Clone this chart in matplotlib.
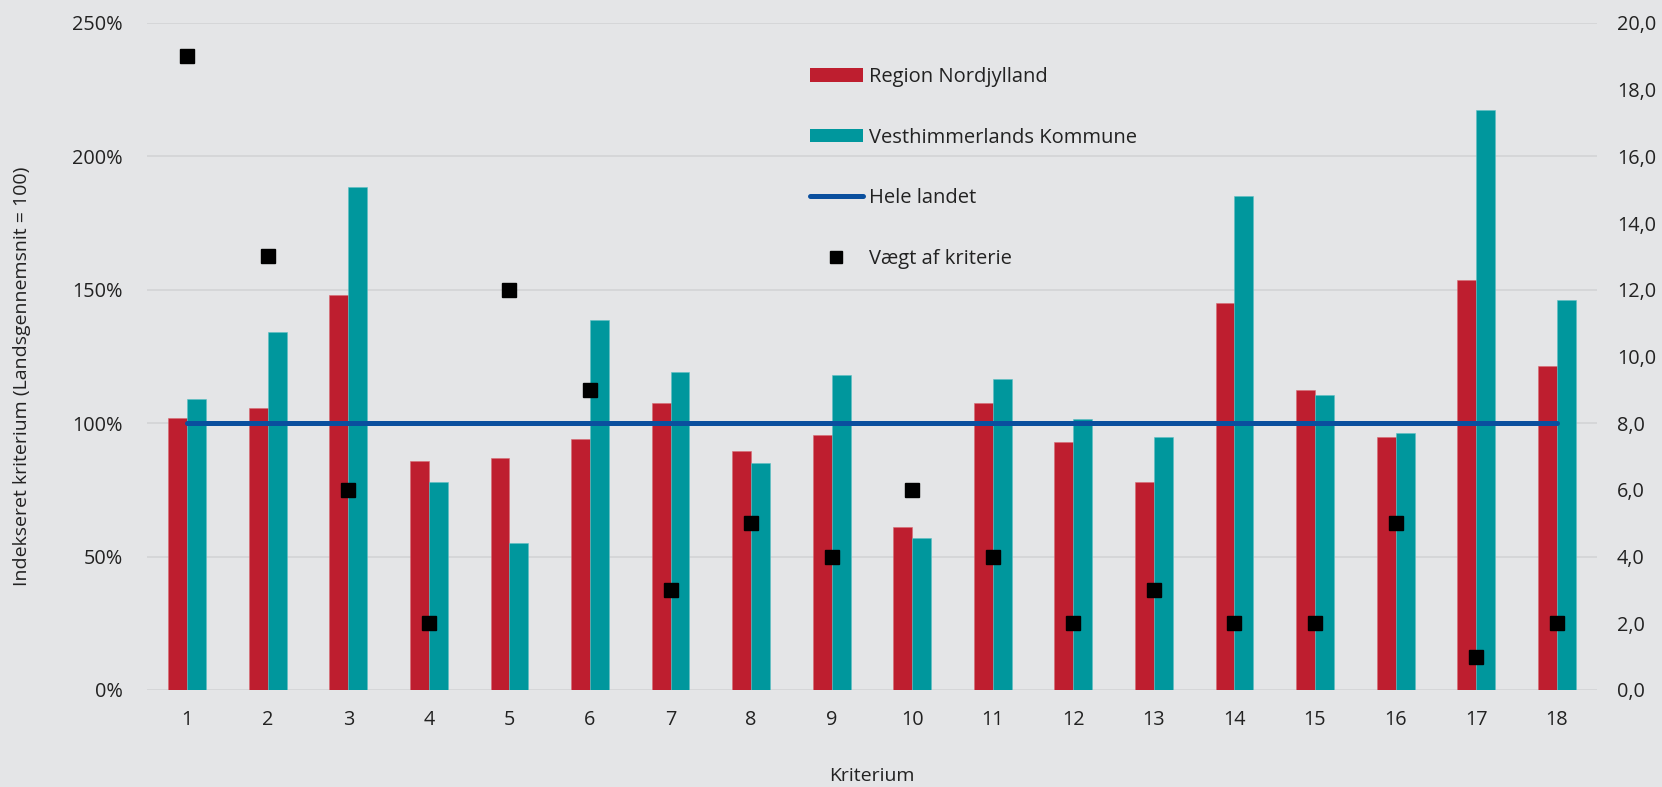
import matplotlib.pyplot as plt
from matplotlib.ticker import FuncFormatter
from matplotlib.lines import Line2D
from matplotlib.patches import Patch
import numpy as np

# Data
kriterier = [str(i) for i in range(1, 19)]
region_nordjylland = [102, 105.5, 148, 86, 87, 94, 107.5, 89.5, 95.5, 61, 107.5, 93, 78, 145, 112.5, 95, 153.5, 121.5]
vesthimmerland = [109, 134, 188.5, 78, 55, 138.5, 119, 85, 118, 57, 116.5, 101.5, 95, 185, 110.5, 96.5, 217.5, 146]
hele_landet = [100] * 18
vaegt = [19, 13, 6, 2, 12, 9, 3, 5, 4, 6, 4, 2, 3, 2, 2, 5, 1, 2]

bg = '#E4E5E7'
red = '#BE1E2F'
teal = '#00979D'
blue = '#0A4F9E'
txt = '#222222'

plt.rcParams['font.family'] = ['Open Sans', 'DejaVu Sans']

fig = plt.figure(figsize=(16.62, 7.87), dpi=100, facecolor=bg)
ax = fig.add_axes([0.0884, 0.1233, 0.8725, 0.8475], facecolor=bg)
ax2 = ax.twinx()

x = np.arange(len(kriterier))
w = 0.235

ax.bar(x - w / 2, region_nordjylland, width=w, color=red, edgecolor='#D86A74', linewidth=0.4, zorder=2)
ax.bar(x + w / 2, vesthimmerland, width=w, color=teal, edgecolor='#5EC0C3', linewidth=0.4, zorder=2)
ax.plot(x, hele_landet, color=blue, lw=3.6, solid_capstyle='round', zorder=3)

ax2.plot(x, vaegt, linestyle='none', marker='s', markersize=10, color='black', zorder=4)

# akser og gitter
ax.set_xlim(-0.5, len(kriterier) - 0.5)
ax.set_ylim(0, 250)
ax.set_yticks(range(0, 251, 50))
ax.yaxis.set_major_formatter(FuncFormatter(lambda v, p: f'{v:.0f}%'))
ax2.set_ylim(0, 20)
ax2.set_yticks(range(0, 21, 2))
ax2.yaxis.set_major_formatter(FuncFormatter(lambda v, p: f'{v:.1f}'.replace('.', ',')))

ax.set_xticks(x)
ax.set_xticklabels(kriterier)
ax.grid(axis='y', color='#D3D4D6', lw=1.2)
ax.set_axisbelow(True)

for a in (ax, ax2):
    for s in a.spines.values():
        s.set_visible(False)
    a.tick_params(length=0, labelsize=14.3, colors=txt)
ax.tick_params(axis='y', pad=17.3)
ax.tick_params(axis='x', pad=14.2)
ax2.tick_params(axis='y', pad=14.4)

ax.set_xlabel('Kriterium', fontsize=14, color=txt, labelpad=27)
ax.set_ylabel('Indekseret kriterium (Landsgennemsnit = 100)', fontsize=14, color=txt)
ax.yaxis.set_label_coords(-0.0796, 0.47)

handles = [
    Patch(facecolor=red),
    Patch(facecolor=teal),
    Line2D([], [], color=blue, lw=3.6, solid_capstyle='round'),
    Line2D([], [], linestyle='none', marker='s', markersize=8, color='black'),
]
labels = ['Region Nordjylland', 'Vesthimmerlands Kommune', 'Hele landet', 'Vægt af kriterie']
leg = ax2.legend(handles, labels, loc='upper left', bbox_to_anchor=(0.457, 0.934), frameon=False,
                 fontsize=14.5, labelspacing=2.02, handlelength=2.64, handleheight=0.65,
                 handletextpad=0.3, borderpad=0, borderaxespad=0, labelcolor=txt)

fig.savefig('out.png', dpi=100, facecolor=bg)
